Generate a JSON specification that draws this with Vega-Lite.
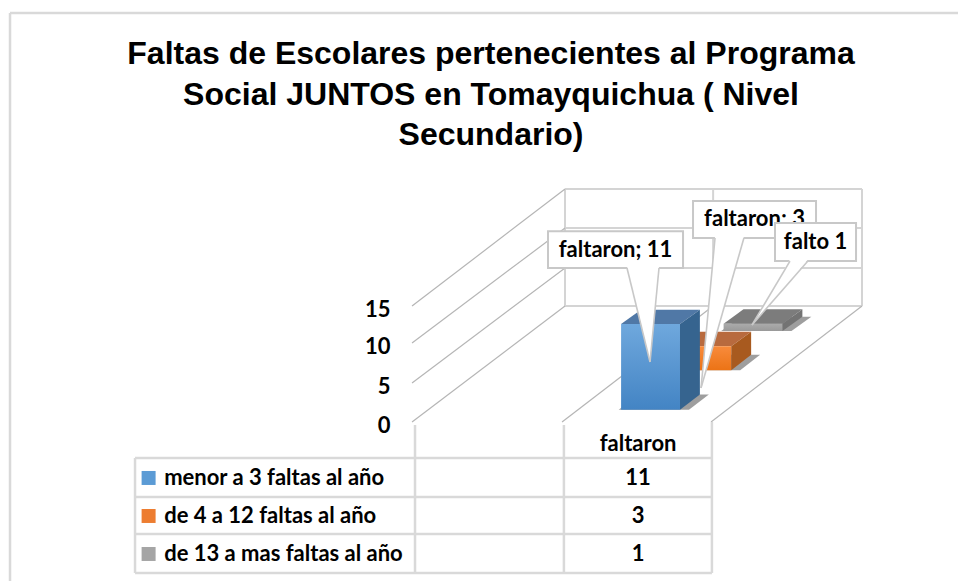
{
"$schema":"https://vega.github.io/schema/vega-lite/v6.json",
"width":958,"height":581,"autosize":"none","padding":0,"background":"white",
"config":{"view":{"stroke":null},"axisX":{"disable":true},"text":{"font":"Lato","fontWeight":"bold","fontSize":22,"color":"black"}},
"title":{"text":["Faltas de Escolares pertenecientes al Programa","Social JUNTOS en Tomayquichua ( Nivel","Secundario)"],"font":"Liberation Sans","fontWeight":"bold","fontSize":32,"color":"black","lineHeight":40.5,"anchor":"middle","dx":12,"dy":156},
"datasets":{
"barras":[
{"serie":"de 13 a mas faltas al año","valor":1,"orden":2,"etiqueta":"falto 1"},
{"serie":"de 4 a 12 faltas al año","valor":3,"orden":1,"etiqueta":"faltaron; 3"},
{"serie":"menor a 3 faltas al año","valor":11,"orden":0,"etiqueta":"faltaron; 11"}],
"idx":[{"i":0},{"i":1},{"i":2},{"i":3},{"i":4},{"i":5},{"i":6},{"i":7}]},
"data":{"name":"barras"},
"transform":[
{"calculate":"[0,1]","as":"t"},{"flatten":["t"]},
{"calculate":"0.104+0.335*datum.orden+datum.t*0.13","as":"dt"},
{"calculate":"0.646+datum.dt*0.5117","as":"xt"},
{"calculate":"datum.xt+0.197","as":"xd"},
{"calculate":"datum.dt*15","as":"yt"},
{"calculate":"datum.valor+datum.yt","as":"yv"},
{"calculate":"datum.xt-0.008","as":"sx"},
{"calculate":"datum.xd+0.03","as":"sx2"},
{"calculate":"-7.04-4.78*datum.orden","as":"yfila"},
{"calculate":"[0.4548,0.9398,1.214][datum.orden]","as":"bx0"},
{"calculate":"[0.9064,1.3512,1.485][datum.orden]","as":"bx1"},
{"calculate":"[20,23.75,20.87][datum.orden]","as":"by0"},
{"calculate":"[24.6,28.46,25.64][datum.orden]","as":"by1"},
{"calculate":"(datum.bx0+datum.bx1)/2","as":"bxm"},
{"calculate":"[22.3,26.1,23.25][datum.orden]","as":"bym"},
{"calculate":"[0.719,1.0134,1.264][datum.orden]","as":"tl"},
{"calculate":"[0.826,1.11,1.324][datum.orden]","as":"tr"},
{"calculate":"[0.796,0.9666,1.137][datum.orden]","as":"tipx"},
{"calculate":"[7.62,4.36,12.43][datum.orden]","as":"tipy"},
{"calculate":"datum.t==0?datum.tl:datum.tipx","as":"ax"},
{"calculate":"datum.t==0?datum.tr:datum.tipx","as":"ax2"},
{"calculate":"datum.t==0?datum.by0+0.2:datum.tipy","as":"ay"}
],
"resolve":{"scale":{"color":"independent"}},
"layer":[
{"data":{"name":"idx"},"transform":[{"filter":"datum.i<7"},
{"calculate":"[0.5117,0.5117,0.5117,0.5117,0.5117,1.007,1.505][datum.i]","as":"a"},
{"calculate":"[1.505,1.505,1.505,1.505,0.5117,1.007,1.505][datum.i]","as":"b"},
{"calculate":"[15,20,25,30,15,15,15][datum.i]","as":"c"},
{"calculate":"[15,20,25,30,30,30,30][datum.i]","as":"e"}],
"mark":{"type":"rule","color":"#D4D4D4","strokeWidth":2},
"encoding":{
"x":{"field":"a","type":"quantitative","scale":{"domain":[-1.378,1.826],"nice":false,"zero":false}},
"x2":{"field":"b"},
"y":{"field":"c","type":"quantitative","scale":{"domain":[-20,0,5,10,15,20,25,30,54.2],"range":[581,422,383,343,306,268,228,189,0],"nice":false,"zero":false},
"axis":{"values":[0,5,10,15],"title":null,"domain":false,"ticks":false,"grid":false,"labelFont":"Lato","labelFontWeight":"bold","labelFontSize":22,"labelColor":"black","offset":-390,"labelPadding":0,"labelOffset":3}},
"y2":{"field":"e"}}},
{"data":{"name":"idx"},"transform":[{"filter":"datum.i<6"},
{"calculate":"[0,0,0,0,0.5017,1.0][datum.i]","as":"a"},
{"calculate":"[0.5117,0.5117,0.5117,0.5117,1.007,1.505][datum.i]","as":"b"},
{"calculate":"[0,5,10,15,0,0][datum.i]","as":"c"},
{"calculate":"[15,20,25,30,15,15][datum.i]","as":"e"}],
"mark":{"type":"rule","color":"#B5B5B5","strokeWidth":1.2},
"encoding":{"x":{"field":"a","type":"quantitative"},"x2":{"field":"b"},"y":{"field":"c","type":"quantitative"},"y2":{"field":"e"}}},
{"data":{"name":"idx"},"transform":[
{"calculate":"[-0.9264,-0.9264,-0.9264,-0.9264,-0.9264,0.01,0.508,1.003][datum.i]","as":"a"},
{"calculate":"[1.003,1.003,1.003,1.003,-0.9264,0.01,0.508,1.003][datum.i]","as":"b"},
{"calculate":"[-4.528,-9.434,-14.09,-18.99,-4.528,-0.38,-0.38,0][datum.i]","as":"c"},
{"calculate":"[-4.528,-9.434,-14.09,-18.99,-18.99,-18.99,-18.99,-18.99][datum.i]","as":"e"}],
"mark":{"type":"rule","color":"#D9D9D9","strokeWidth":2.5},
"encoding":{"x":{"field":"a","type":"quantitative"},"x2":{"field":"b"},"y":{"field":"c","type":"quantitative"},"y2":{"field":"e"}}},
{"data":{"name":"idx"},"transform":[{"filter":"datum.i<2"},
{"calculate":"[-1.3445,-1.3445][datum.i]","as":"a"},
{"calculate":"[1.826,-1.3445][datum.i]","as":"b"},
{"calculate":"[52.53,52.53][datum.i]","as":"c"},
{"calculate":"[52.53,-20][datum.i]","as":"e"}],
"mark":{"type":"rule","color":"#D9D9D9","strokeWidth":2.5},
"encoding":{"x":{"field":"a","type":"quantitative"},"x2":{"field":"b"},"y":{"field":"c","type":"quantitative"},"y2":{"field":"e"}}},
{"mark":{"type":"area","orient":"horizontal","color":"#000000","opacity":0.38},
"encoding":{"y":{"field":"yt","type":"quantitative"},"x":{"field":"sx","type":"quantitative"},"x2":{"field":"sx2"},"detail":{"field":"serie"}}},
{"mark":{"type":"area","orient":"horizontal"},
"encoding":{"y":{"field":"yv","type":"quantitative"},"x":{"field":"xt","type":"quantitative"},"x2":{"field":"xd"},
"color":{"field":"serie","legend":null,"scale":{"domain":["menor a 3 faltas al año","de 4 a 12 faltas al año","de 13 a mas faltas al año"],"range":["#5078A6","#B86A3E","#7C7C7C"]}}}},
{"transform":[{"filter":"datum.t==0 && datum.orden==2"}],
"mark":{"type":"rect","color":{"gradient":"linear","x1":0,"y1":0,"x2":0,"y2":1,"stops":[{"offset":0,"color":"#ABABAB"},{"offset":1,"color":"#999999"}]}},
"encoding":{"x":{"field":"xt","type":"quantitative"},"x2":{"field":"xd"},"y":{"field":"yt","type":"quantitative"},"y2":{"field":"yv"}}},
{"transform":[{"filter":"datum.t==0 && datum.orden==1"}],
"mark":{"type":"rect","color":{"gradient":"linear","x1":0,"y1":0,"x2":0,"y2":1,"stops":[{"offset":0,"color":"#F88B3C"},{"offset":1,"color":"#EC7315"}]}},
"encoding":{"x":{"field":"xt","type":"quantitative"},"x2":{"field":"xd"},"y":{"field":"yt","type":"quantitative"},"y2":{"field":"yv"}}},
{"transform":[{"filter":"datum.t==0 && datum.orden==0"}],
"mark":{"type":"rect","color":{"gradient":"linear","x1":0,"y1":0,"x2":0,"y2":1,"stops":[{"offset":0,"color":"#6FA8DD"},{"offset":1,"color":"#4384C4"}]}},
"encoding":{"x":{"field":"xt","type":"quantitative"},"x2":{"field":"xd"},"y":{"field":"yt","type":"quantitative"},"y2":{"field":"yv"}}},
{"mark":{"type":"area","orient":"vertical"},
"encoding":{"x":{"field":"xd","type":"quantitative"},"y":{"field":"yt","type":"quantitative"},"y2":{"field":"yv"},
"color":{"field":"serie","legend":null,"scale":{"domain":["menor a 3 faltas al año","de 4 a 12 faltas al año","de 13 a mas faltas al año"],"range":["#36648F","#A85A1F","#737373"]}}}},
{"transform":[{"filter":"datum.t==0"}],"mark":{"type":"text","align":"left"},
"encoding":{"x":{"datum":-0.829},"y":{"field":"yfila","type":"quantitative"},"text":{"field":"serie"}}},
{"transform":[{"filter":"datum.t==0"}],"mark":{"type":"text","align":"center"},
"encoding":{"x":{"datum":0.756},"y":{"field":"yfila","type":"quantitative"},"text":{"field":"valor"}}},
{"transform":[{"filter":"datum.t==0 && datum.orden==0"}],"mark":{"type":"text","align":"center","text":"faltaron"},
"encoding":{"x":{"datum":0.756},"y":{"datum":-2.767}}},
{"transform":[{"filter":"datum.t==0"}],"mark":{"type":"point","shape":"square","size":196,"filled":true,"opacity":1},
"encoding":{"x":{"datum":-0.881},"y":{"field":"yfila","type":"quantitative"},
"color":{"field":"serie","legend":null,"scale":{"domain":["menor a 3 faltas al año","de 4 a 12 faltas al año","de 13 a mas faltas al año"],"range":["#5B9BD5","#ED7D31","#A5A5A5"]}}}},
{"transform":[{"filter":"datum.t==0 && datum.orden<2"}],"mark":{"type":"rect","fill":"white","stroke":"#C8C8C8","strokeWidth":2},
"encoding":{"x":{"field":"bx0","type":"quantitative"},"x2":{"field":"bx1"},"y":{"field":"by0","type":"quantitative"},"y2":{"field":"by1"}}},
{"transform":[{"filter":"datum.orden<2"}],"mark":{"type":"area","orient":"horizontal","color":"white"},
"encoding":{"y":{"field":"ay","type":"quantitative"},"x":{"field":"ax","type":"quantitative"},"x2":{"field":"ax2"},"detail":{"field":"serie"}}},
{"transform":[{"filter":"datum.t==0 && datum.orden<2"}],"mark":{"type":"rule","color":"#C8C8C8","strokeWidth":1.6},
"encoding":{"x":{"field":"tl","type":"quantitative"},"x2":{"field":"tipx"},"y":{"field":"by0","type":"quantitative"},"y2":{"field":"tipy"}}},
{"transform":[{"filter":"datum.t==0 && datum.orden<2"}],"mark":{"type":"rule","color":"#C8C8C8","strokeWidth":1.6},
"encoding":{"x":{"field":"tr","type":"quantitative"},"x2":{"field":"tipx"},"y":{"field":"by0","type":"quantitative"},"y2":{"field":"tipy"}}},
{"transform":[{"filter":"datum.t==0 && datum.orden<2"}],"mark":{"type":"text","align":"center"},
"encoding":{"x":{"field":"bxm","type":"quantitative"},"y":{"field":"bym","type":"quantitative"},"text":{"field":"etiqueta"}}},
{"transform":[{"filter":"datum.t==0 && datum.orden==2"}],"mark":{"type":"rect","fill":"white","stroke":"#C8C8C8","strokeWidth":2},
"encoding":{"x":{"field":"bx0","type":"quantitative"},"x2":{"field":"bx1"},"y":{"field":"by0","type":"quantitative"},"y2":{"field":"by1"}}},
{"transform":[{"filter":"datum.orden==2"}],"mark":{"type":"area","orient":"horizontal","color":"white"},
"encoding":{"y":{"field":"ay","type":"quantitative"},"x":{"field":"ax","type":"quantitative"},"x2":{"field":"ax2"}}},
{"transform":[{"filter":"datum.t==0 && datum.orden==2"}],"mark":{"type":"rule","color":"#C8C8C8","strokeWidth":1.6},
"encoding":{"x":{"field":"tl","type":"quantitative"},"x2":{"field":"tipx"},"y":{"field":"by0","type":"quantitative"},"y2":{"field":"tipy"}}},
{"transform":[{"filter":"datum.t==0 && datum.orden==2"}],"mark":{"type":"rule","color":"#C8C8C8","strokeWidth":1.6},
"encoding":{"x":{"field":"tr","type":"quantitative"},"x2":{"field":"tipx"},"y":{"field":"by0","type":"quantitative"},"y2":{"field":"tipy"}}},
{"transform":[{"filter":"datum.t==0 && datum.orden==2"}],"mark":{"type":"text","align":"center"},
"encoding":{"x":{"field":"bxm","type":"quantitative"},"y":{"field":"bym","type":"quantitative"},"text":{"field":"etiqueta"}}}
]
}
